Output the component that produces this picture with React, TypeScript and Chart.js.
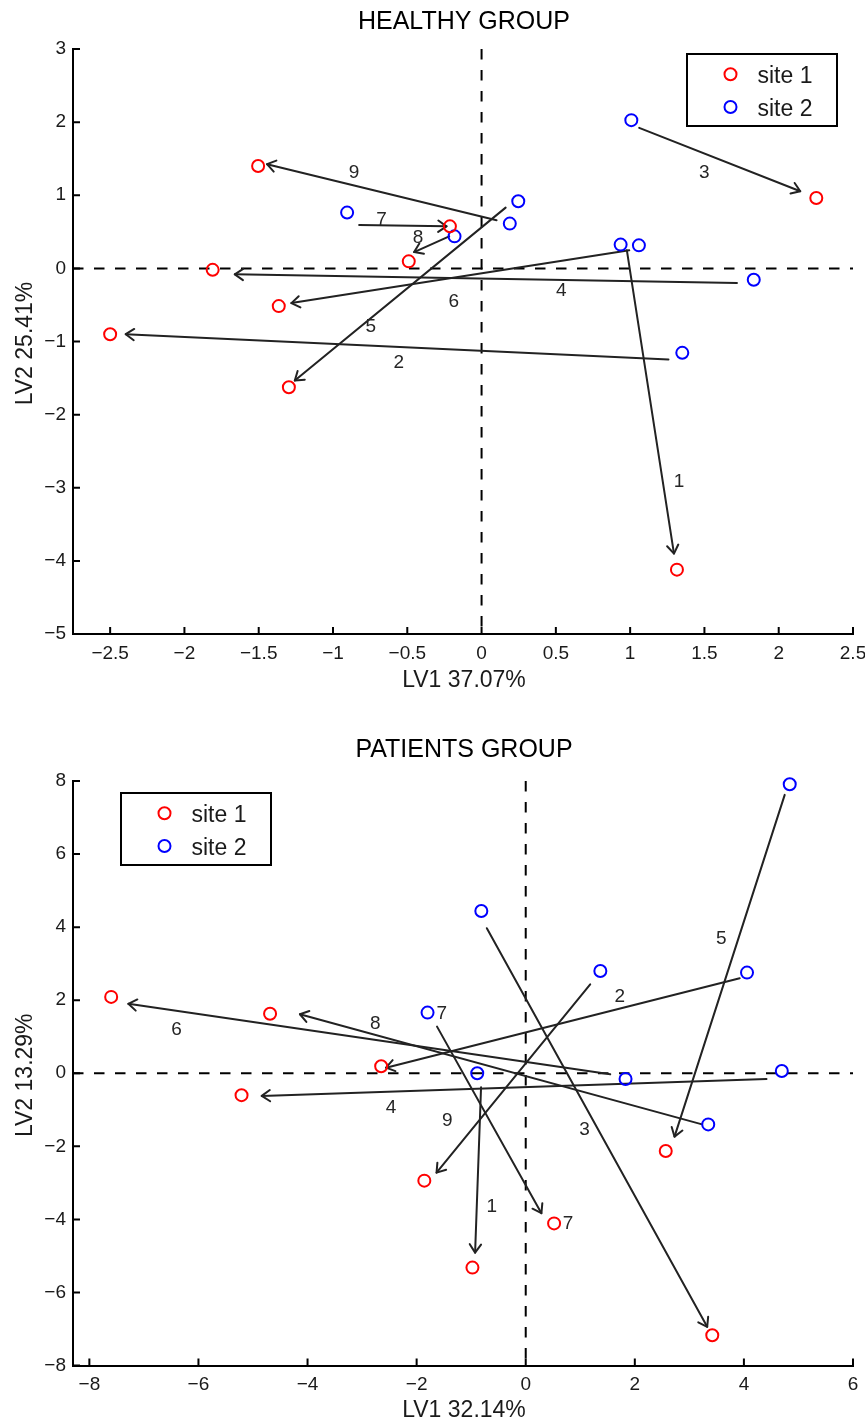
import React, { useEffect, useRef } from "react";
import { Chart, registerables } from "chart.js";

Chart.register(...registerables);

const FONT = "'Liberation Sans', Arial, Helvetica, sans-serif";

// ---------------- HEALTHY GROUP ----------------
const healthySite1X = [1.315, -2.5, 2.253, -1.81, -1.297, -1.365, -0.213, -0.49, -1.504];
const healthySite1Y = [-4.12, -0.9, 0.963, -0.02, -1.626, -0.516, 0.575, 0.096, 1.4];
const healthySite2X = [1.059, 1.351, 1.008, 1.832, 0.247, 0.936, -0.905, -0.182, 0.19];
const healthySite2Y = [0.315, -1.155, 2.027, -0.155, 0.918, 0.325, 0.763, 0.438, 0.612];
const healthyArrowFromX = [0.978, 1.258, 1.061, 1.719, 0.162, 0.994, -0.824, -0.218, 0.101];
const healthyArrowFromY = [0.247, -1.247, 1.922, -0.201, 0.831, 0.247, 0.593, 0.438, 0.658];
const healthyArrowToX = [1.295, -2.395, 2.145, -1.661, -1.257, -1.28, -0.236, -0.454, -1.444];
const healthyArrowToY = [-3.9, -0.9, 1.055, -0.082, -1.534, -0.475, 0.575, 0.223, 1.425];
const healthyLabelText = ["1", "2", "3", "4", "5", "6", "7", "8", "9"];
const healthyLabelX = [1.329, -0.557, 1.499, 0.536, -0.745, -0.187, -0.673, -0.427, -0.858];
const healthyLabelY = [-2.91, -1.274, 1.319, -0.292, -0.78, -0.447, 0.68, 0.43, 1.32];
const healthyXTicks = [-2.5, -2, -1.5, -1, -0.5, 0, 0.5, 1, 1.5, 2, 2.5];
const healthyYTicks = [-5, -4, -3, -2, -1, 0, 1, 2, 3];
const healthyXRange = [-2.75, 2.5];
const healthyYRange = [-5, 3];

// ---------------- PATIENTS GROUP ----------------
const patientsSite1X = [-0.977, -2.65, 3.42, -5.21, 2.567, -7.6, 0.52, -4.687, -1.859];
const patientsSite1Y = [-5.32, 0.19, -7.17, -0.6, -2.13, 2.09, -4.11, 1.63, -2.94];
const patientsSite2X = [-0.889, 4.057, -0.814, 4.695, 4.84, 1.83, -1.8, 3.346, 1.368];
const patientsSite2Y = [0.0, 2.755, 4.44, 0.063, 7.91, -0.156, 1.66, -1.4, 2.8];
const patientsArrowFromX = [-0.819, 3.923, -0.713, 4.414, 4.748, 1.549, -1.626, 3.233, 1.182];
const patientsArrowFromY = [-0.383, 2.6, 3.97, -0.156, 7.62, -0.03, 1.276, -1.4, 2.436];
const patientsArrowToX = [-0.928, -2.561, 3.327, -4.84, 2.728, -7.285, 0.288, -4.14, -1.635];
const patientsArrowToY = [-4.91, 0.153, -6.94, -0.62, -1.735, 1.9, -3.83, 1.615, -2.72];
const patientsLabelText = ["1", "2", "3", "4", "5", "6", "8", "9", "7", "7"];
const patientsLabelX = [-0.623, 1.723, 1.078, -2.47, 3.586, -6.4, -2.757, -1.437, -1.54, 0.774];
const patientsLabelY = [-3.63, 2.116, -1.533, -0.91, 3.7, 1.21, 1.385, -1.26, 1.66, -4.09];
const patientsXTicks = [-8, -6, -4, -2, 0, 2, 4, 6];
const patientsYTicks = [-8, -6, -4, -2, 0, 2, 4, 6, 8];
const patientsXRange = [-8.3, 6];
const patientsYRange = [-8, 8];

const legendLabels = ["site 1", "site 2"];
const siteColors = ["#ff0000", "#0000ff"];

const fmt = (v: number) => (v < 0 ? "\u2212" : "") + String(Math.abs(v));

const toPts = (xs: number[], ys: number[]) => xs.map((x, i) => ({ x, y: ys[i] }));

const decorPlugin = {
  id: "decor",
  beforeDatasetsDraw(chart: any, _args: any, o: any) {
    const { ctx, chartArea: a } = chart;
    const xs = chart.scales.x;
    const ys = chart.scales.y;
    ctx.save();
    // dashed zero lines
    ctx.strokeStyle = "#000";
    ctx.lineWidth = 2;
    ctx.setLineDash([10.5, 10.5]);
    const x0 = xs.getPixelForValue(0);
    const y0 = ys.getPixelForValue(0);
    ctx.beginPath();
    ctx.moveTo(a.left, y0);
    ctx.lineTo(a.right, y0);
    ctx.stroke();
    ctx.beginPath();
    ctx.moveTo(x0, a.top);
    ctx.lineTo(x0, a.bottom);
    ctx.stroke();
    ctx.setLineDash([]);

    // arrows
    ctx.strokeStyle = "#222";
    ctx.lineWidth = 2;
    ctx.lineJoin = "round";
    ctx.lineCap = "round";
    for (let i = 0; i < o.fromX.length; i++) {
      const sx = xs.getPixelForValue(o.fromX[i]);
      const sy = ys.getPixelForValue(o.fromY[i]);
      const ex = xs.getPixelForValue(o.toX[i]);
      const ey = ys.getPixelForValue(o.toY[i]);
      const dist = Math.hypot(ex - sx, ey - sy);
      const ang = Math.atan2(ey - sy, ex - sx);
      const len = Math.min(10, dist * 0.3);
      ctx.beginPath();
      ctx.moveTo(sx, sy);
      ctx.lineTo(ex, ey);
      ctx.stroke();
      ctx.beginPath();
      ctx.moveTo(ex + len * Math.cos(ang + Math.PI - 0.6), ey + len * Math.sin(ang + Math.PI - 0.6));
      ctx.lineTo(ex, ey);
      ctx.lineTo(ex + len * Math.cos(ang + Math.PI + 0.6), ey + len * Math.sin(ang + Math.PI + 0.6));
      ctx.stroke();
    }

    // labels
    ctx.fillStyle = "#262626";
    ctx.font = `19px ${FONT}`;
    ctx.textAlign = "center";
    ctx.textBaseline = "middle";
    for (let i = 0; i < o.labelText.length; i++) {
      ctx.fillText(o.labelText[i], xs.getPixelForValue(o.labelX[i]), ys.getPixelForValue(o.labelY[i]) + 1);
    }
    ctx.restore();
  },
  afterDraw(chart: any, _args: any, o: any) {
    const { ctx, chartArea: a } = chart;
    const xs = chart.scales.x;
    const ys = chart.scales.y;
    ctx.save();
    // inner ticks
    ctx.strokeStyle = "#000";
    ctx.lineWidth = 2;
    ctx.beginPath();
    xs.ticks.forEach((t: any) => {
      const p = xs.getPixelForValue(t.value);
      ctx.moveTo(p, a.bottom);
      ctx.lineTo(p, a.bottom - 7);
    });
    ys.ticks.forEach((t: any) => {
      const p = ys.getPixelForValue(t.value);
      ctx.moveTo(a.left, p);
      ctx.lineTo(a.left + 7, p);
    });
    ctx.stroke();

    const cx = (a.left + a.right) / 2;
    const cy = (a.top + a.bottom) / 2;
    // title
    ctx.fillStyle = "#000";
    ctx.textAlign = "center";
    ctx.textBaseline = "alphabetic";
    ctx.font = `25px ${FONT}`;
    ctx.fillText(o.title, cx + 1, o.titleBaseline);
    // axis titles
    ctx.fillStyle = "#1a1a1a";
    ctx.font = `23px ${FONT}`;
    ctx.fillText(o.xTitle, cx + 1, o.xTitleBaseline);
    ctx.save();
    ctx.translate(31.5, cy + 2);
    ctx.rotate(-Math.PI / 2);
    ctx.fillText(o.yTitle, 0, 0);
    ctx.restore();

    // legend
    const bx = o.legendLeft;
    const by = o.legendTop;
    ctx.fillStyle = "#fff";
    ctx.fillRect(bx, by, 150, 72);
    ctx.strokeStyle = "#000";
    ctx.lineWidth = 2;
    ctx.strokeRect(bx, by, 150, 72);
    ctx.font = `23px ${FONT}`;
    ctx.textAlign = "left";
    for (let i = 0; i < legendLabels.length; i++) {
      const ly = by + 20.3 + i * 32.7;
      ctx.beginPath();
      ctx.strokeStyle = siteColors[i];
      ctx.lineWidth = 2;
      ctx.arc(bx + 43.5, ly, 6, 0, Math.PI * 2);
      ctx.stroke();
      ctx.fillStyle = "#1a1a1a";
      ctx.fillText(legendLabels[i], bx + 70.5, by + 29 + i * 32.7);
    }
    ctx.restore();
  },
};

type PanelProps = {
  height: number;
  top: number;
  areaTop: number;
  areaBottom: number;
  s1x: number[];
  s1y: number[];
  s2x: number[];
  s2y: number[];
  xRange: number[];
  yRange: number[];
  xTicks: number[];
  yTicks: number[];
  decor: any;
};

function Panel(p: PanelProps) {
  const ref = useRef<HTMLCanvasElement | null>(null);
  useEffect(() => {
    if (!ref.current) return;
    const ds = (xs: number[], ys: number[], color: string, label: string) => ({
      label,
      data: toPts(xs, ys),
      showLine: false,
      clip: false,
      pointStyle: "circle",
      pointRadius: 6,
      pointHoverRadius: 6,
      pointBorderWidth: 2,
      borderColor: color,
      backgroundColor: "rgba(0,0,0,0)",
    });
    const tickFont = { family: FONT, size: 19 };
    const chart = new Chart(ref.current, {
      type: "scatter",
      data: {
        datasets: [
          ds(p.s1x, p.s1y, siteColors[0], legendLabels[0]),
          ds(p.s2x, p.s2y, siteColors[1], legendLabels[1]),
        ],
      },
      options: {
        responsive: false,
        animation: false,
        devicePixelRatio: 1,
        layout: { padding: { left: 0, right: 12, top: p.areaTop, bottom: 0 } },
        plugins: {
          legend: { display: false },
          tooltip: { enabled: false },
          decor: p.decor,
        },
        scales: {
          x: {
            type: "linear",
            min: p.xRange[0],
            max: p.xRange[1],
            grid: { display: false, drawTicks: false },
            border: { display: true, color: "#000", width: 2 },
            ticks: {
              font: tickFont,
              color: "#1a1a1a",
              padding: 8,
              autoSkip: false,
              maxRotation: 0,
              callback: (v: any) => fmt(Number(v)),
            },
            afterBuildTicks: (s: any) => {
              s.ticks = p.xTicks.map((v) => ({ value: v }));
            },
            afterFit: (s: any) => {
              s.height = p.height - p.areaBottom;
              s.paddingLeft = 0;
              s.paddingRight = 0;
            },
          },
          y: {
            type: "linear",
            min: p.yRange[0],
            max: p.yRange[1],
            grid: { display: false, drawTicks: false },
            border: { display: true, color: "#000", width: 2 },
            ticks: {
              font: tickFont,
              color: "#1a1a1a",
              padding: 7,
              autoSkip: false,
              callback: (v: any) => fmt(Number(v)),
            },
            afterBuildTicks: (s: any) => {
              s.ticks = p.yTicks.map((v) => ({ value: v }));
            },
            afterFit: (s: any) => {
              s.width = 73;
              s.paddingTop = 0;
              s.paddingBottom = 0;
            },
          },
        },
      } as any,
      plugins: [decorPlugin as any],
    });
    return () => chart.destroy();
  }, []);
  return (
    <div style={{ position: "absolute", left: 0, top: p.top, width: 865, height: p.height }}>
      <canvas ref={ref} width={865} height={p.height} style={{ width: 865, height: p.height, display: "block" }} />
    </div>
  );
}

export default function App() {
  return (
    <div style={{ position: "absolute", left: 0, top: 0, width: 865, height: 1425, background: "#fff", overflow: "hidden" }}>
      <Panel
        height={712}
        top={0}
        areaTop={49}
        areaBottom={634}
        s1x={healthySite1X}
        s1y={healthySite1Y}
        s2x={healthySite2X}
        s2y={healthySite2Y}
        xRange={healthyXRange}
        yRange={healthyYRange}
        xTicks={healthyXTicks}
        yTicks={healthyYTicks}
        decor={{
          fromX: healthyArrowFromX,
          fromY: healthyArrowFromY,
          toX: healthyArrowToX,
          toY: healthyArrowToY,
          labelText: healthyLabelText,
          labelX: healthyLabelX,
          labelY: healthyLabelY,
          title: "HEALTHY GROUP",
          titleBaseline: 29,
          xTitle: "LV1 37.07%",
          xTitleBaseline: 687,
          yTitle: "LV2 25.41%",
          legendLeft: 687,
          legendTop: 54,
        }}
      />
      <Panel
        height={713}
        top={712}
        areaTop={69}
        areaBottom={653.5}
        s1x={patientsSite1X}
        s1y={patientsSite1Y}
        s2x={patientsSite2X}
        s2y={patientsSite2Y}
        xRange={patientsXRange}
        yRange={patientsYRange}
        xTicks={patientsXTicks}
        yTicks={patientsYTicks}
        decor={{
          fromX: patientsArrowFromX,
          fromY: patientsArrowFromY,
          toX: patientsArrowToX,
          toY: patientsArrowToY,
          labelText: patientsLabelText,
          labelX: patientsLabelX,
          labelY: patientsLabelY,
          title: "PATIENTS GROUP",
          titleBaseline: 44.7,
          xTitle: "LV1 32.14%",
          xTitleBaseline: 705,
          yTitle: "LV2 13.29%",
          legendLeft: 121,
          legendTop: 81,
        }}
      />
    </div>
  );
}
